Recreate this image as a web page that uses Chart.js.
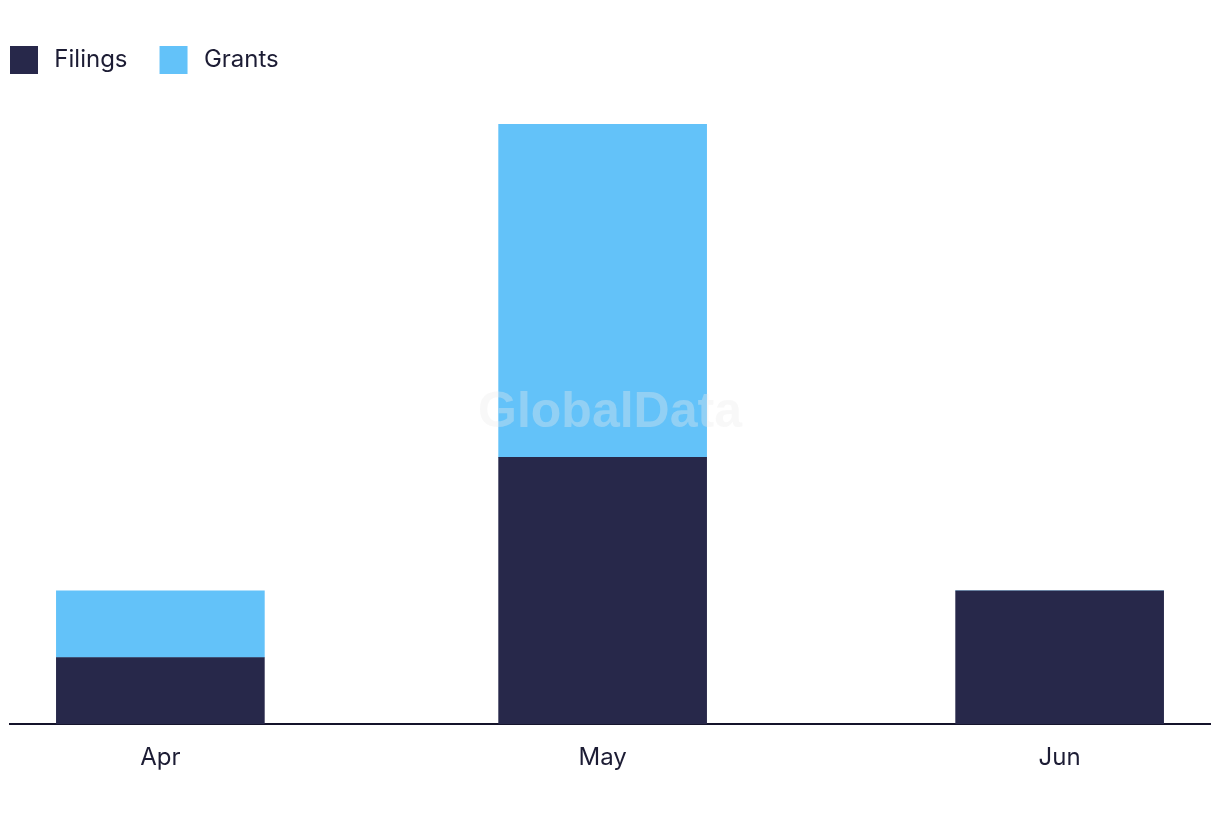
<!DOCTYPE html>
<html>
<head>
<meta charset="utf-8">
<script src="https://cdn.jsdelivr.net/npm/chart.js@4/dist/chart.umd.min.js"></script>
<style>
  html, body { margin: 0; padding: 0; background: #ffffff; }
  #wrap { width: 1220px; height: 822px; position: relative; }
</style>
</head>
<body>
<div id="wrap"><canvas id="barChart"></canvas></div>
<script>
    // months and their day offset from 1 Apr (x is a time-like axis)
    const months = ['Apr', 'May', 'Jun']
    const monthDay = [0, 30, 61]
    const filings = [1, 4, 2]
    const grants = [1, 5, 0]

    const textColor = '#1c1c34'

    function toPoints(values) {
        let pts = []
        for (var i = 0; i < values.length; i++) {
            pts[i] = { x: monthDay[i], y: values[i] }
        }
        return pts
    }

    // legend: extra room below it and pulled back to the left edge
    const legendSpace = {
        id: 'legendSpace',
        beforeInit(chart) {
            const fit = chart.legend.fit
            chart.legend.fit = function () {
                fit.bind(chart.legend)()
                this.height += 40
            }
        },
        afterLayout(chart) {
            chart.legend.left = 10 - chart.legend.options.labels.padding
        }
    }

    const watermark = {
        id: 'watermark',
        afterDatasetsDraw(chart) {
            const ctx = chart.ctx
            const a = chart.chartArea
            ctx.save()
            ctx.font = 'bold 50px "Liberation Sans", Arial, sans-serif'
            ctx.fillStyle = 'rgba(235, 235, 235, 0.35)'
            ctx.textAlign = 'center'
            ctx.textBaseline = 'middle'
            ctx.fillText('GlobalData', (a.left + a.right) / 2, (a.top + a.bottom) / 2 - 11)
            ctx.restore()
        }
    }

    Chart.defaults.font.family = 'Inter, "Noto Sans", sans-serif'
    Chart.defaults.color = textColor

    new Chart(document.getElementById('barChart'), {
        type: 'bar',
        data: {
            datasets: [
                {
                    label: 'Filings',
                    data: toPoints(filings),
                    backgroundColor: '#27284a',
                    stack: 's',
                    barThickness: 208
                },
                {
                    label: 'Grants',
                    data: toPoints(grants),
                    backgroundColor: '#63c2f9',
                    stack: 's',
                    barThickness: 208
                }
            ]
        },
        options: {
            responsive: true,
            maintainAspectRatio: false,
            animation: false,
            layout: { padding: { top: 14, left: 10, right: 10, bottom: 31 } },
            plugins: {
                tooltip: { enabled: false },
                legend: {
                    position: 'top',
                    align: 'start',
                    labels: {
                        boxWidth: 28,
                        boxHeight: 28,
                        padding: 32,
                        font: { size: 24 },
                        color: textColor,
                        generateLabels: function (chart) {
                            const items = Chart.defaults.plugins.legend.labels.generateLabels(chart)
                            items.forEach(it => { it.text = '\u2009' + it.text })
                            return items
                        }
                    }
                }
            },
            scales: {
                x: {
                    type: 'linear',
                    offset: false,
                    min: -10.2,
                    max: 71.2,
                    afterBuildTicks: function (axis) {
                        axis.ticks = monthDay.map(v => ({ value: v }))
                    },
                    ticks: {
                        autoSkip: false,
                        maxRotation: 0,
                        padding: 19,
                        font: { size: 24 },
                        color: textColor,
                        callback: function (value) {
                            return months[monthDay.indexOf(value)]
                        }
                    },
                    grid: { display: false, drawTicks: false },
                    border: { display: true, color: '#14132a', width: 2 }
                },
                y: {
                    display: false,
                    stacked: true,
                    min: 0,
                    max: 9
                }
            }
        },
        plugins: [legendSpace, watermark]
    });
</script>
</body>
</html>
